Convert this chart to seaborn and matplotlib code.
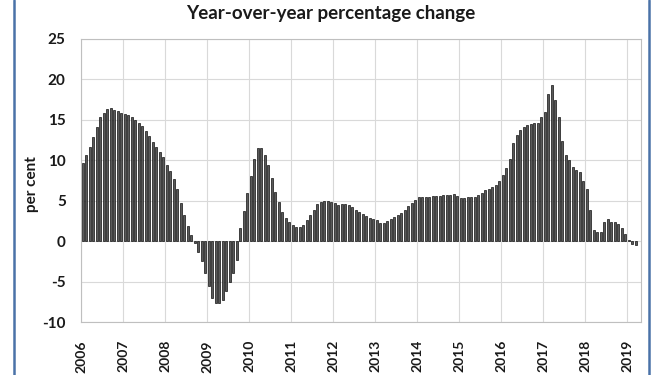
import numpy as np
import pandas as pd
import matplotlib
matplotlib.use("Agg")
import matplotlib.pyplot as plt
from matplotlib.lines import Line2D
from matplotlib.transforms import ScaledTranslation
import seaborn as sns

sns.set_theme(style="white")
plt.rcParams["font.family"] = ["Lato", "DejaVu Sans"]
plt.rcParams["axes.unicode_minus"] = False

# Monthly year-over-year change, per cent
yoy_2006 = [9.7, 10.6, 11.7, 12.9, 14.1, 15.3, 15.9, 16.4, 16.5, 16.2, 16.1, 15.9]
yoy_2007 = [15.7, 15.6, 15.3, 15.0, 14.6, 14.2, 13.6, 13.0, 12.3, 11.6, 11.0, 10.4]
yoy_2008 = [9.4, 8.7, 7.7, 6.4, 4.7, 3.2, 1.9, 0.8, -0.2, -1.3, -2.5, -4.0]
yoy_2009 = [-5.6, -7.0, -7.6, -7.7, -7.3, -6.2, -5.0, -3.9, -2.3, 1.6, 3.7, 6.0]
yoy_2010 = [8.0, 10.1, 11.5, 11.5, 10.6, 9.4, 7.8, 6.1, 4.9, 3.6, 2.9, 2.4]
yoy_2011 = [2.0, 1.7, 1.7, 2.0, 2.6, 3.2, 3.9, 4.6, 4.9, 5.0, 5.0, 4.9]
yoy_2012 = [4.7, 4.5, 4.6, 4.6, 4.5, 4.2, 3.8, 3.6, 3.3, 3.1, 2.9, 2.8]
yoy_2013 = [2.6, 2.3, 2.3, 2.5, 2.8, 3.0, 3.2, 3.5, 3.9, 4.3, 4.7, 5.1]
yoy_2014 = [5.4, 5.5, 5.5, 5.5, 5.6, 5.6, 5.6, 5.7, 5.7, 5.7, 5.8, 5.6]
yoy_2015 = [5.3, 5.3, 5.4, 5.4, 5.5, 5.7, 6.0, 6.3, 6.5, 6.7, 6.9, 7.4]
yoy_2016 = [8.2, 9.0, 10.1, 12.1, 13.1, 13.7, 14.1, 14.4, 14.5, 14.6, 14.6, 15.3]
yoy_2017 = [16.0, 18.2, 19.3, 17.4, 15.3, 12.4, 10.6, 10.0, 9.2, 8.8, 8.6, 7.5]
yoy_2018 = [6.5, 3.8, 1.4, 1.1, 1.1, 2.4, 2.7, 2.4, 2.4, 2.1, 1.6, 0.9]
yoy_2019 = [0.1, -0.4, -0.5]

year_labels = [str(y) for y in range(2006, 2020)]

values = (yoy_2006 + yoy_2007 + yoy_2008 + yoy_2009 + yoy_2010 + yoy_2011
          + yoy_2012 + yoy_2013 + yoy_2014 + yoy_2015 + yoy_2016 + yoy_2017
          + yoy_2018 + yoy_2019)
df = pd.DataFrame({"month": np.arange(len(values)) + 0.5, "change": values})

fig = plt.figure(figsize=(6.62, 3.75), dpi=100)
ax = fig.add_axes([81 / 662, 1 - 322 / 375, 560 / 662, 283 / 375])

sns.barplot(data=df, x="month", y="change", native_scale=True, width=0.66,
            color="#5a5a5a", saturation=1, edgecolor="#111111", linewidth=0.5,
            errorbar=None, ax=ax)

ax.set_xlim(0, 160)
ax.set_ylim(-10, 25)
ax.set_yticks(range(-10, 26, 5))
ax.set_xticks(np.arange(0, 12 * len(year_labels), 12))
ax.set_xticklabels(year_labels, rotation=90, fontweight="bold", fontsize=10)
for lbl in ax.get_yticklabels():
    lbl.set_fontweight("bold")
    lbl.set_fontsize(11)

# shift year labels a bit right of the gridlines
offset = ScaledTranslation(3 / 72, 0, fig.dpi_scale_trans)
for lbl in ax.get_xticklabels():
    lbl.set_transform(lbl.get_transform() + offset)

ax.grid(True, color="#d9d9d9", linewidth=0.8)
ax.set_axisbelow(True)
for s in ax.spines.values():
    s.set_color("#bfbfbf")
    s.set_linewidth(0.8)
ax.tick_params(axis="both", direction="out", length=4, color="#bfbfbf",
               labelcolor="#1a1a1a", pad=7)
ax.tick_params(axis="x", pad=9)
ax.set_xlabel("")
ax.set_ylabel("")

fig.text(0.499, 0.965, "Year-over-year percentage change", ha="center",
         va="center", fontsize=13.5, fontweight="bold", color="#1a1a1a")
fig.text(32 / 662, 1 - 184 / 375, "per cent", rotation=90, ha="center",
         va="center", fontsize=11, fontweight="bold", color="#1a1a1a")

# blue frame edges
for xf in (14 / 662, 649 / 662):
    fig.add_artist(Line2D([xf, xf], [0, 1], transform=fig.transFigure,
                          color="#4a72a8", linewidth=1.8))

fig.savefig("out.png", dpi=100)
